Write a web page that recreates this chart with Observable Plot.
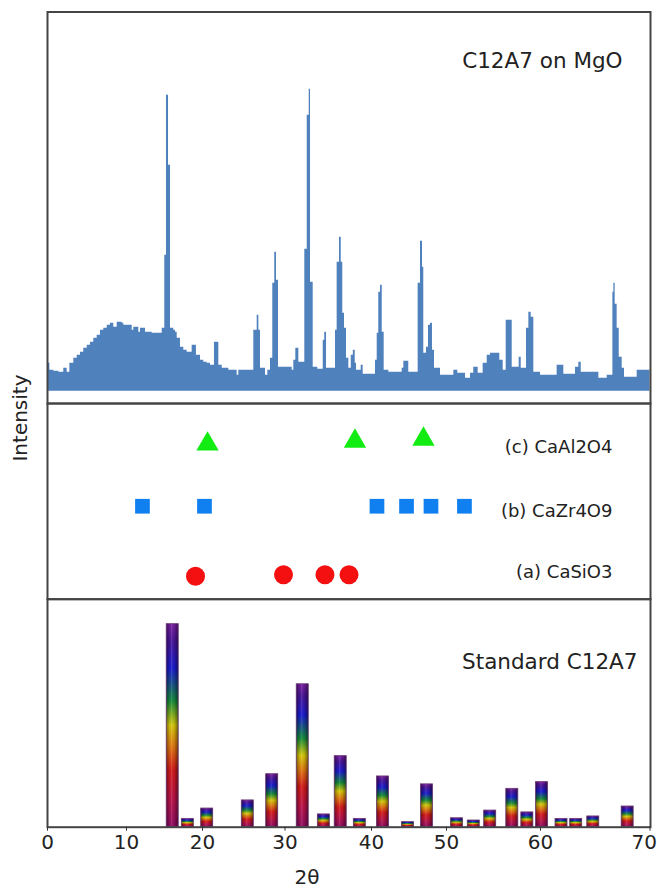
<!DOCTYPE html>
<html><head><meta charset="utf-8">
<script src="https://cdn.jsdelivr.net/npm/d3@7"></script>
<script src="https://cdn.jsdelivr.net/npm/@observablehq/plot@0.6"></script>
<style>
html,body{margin:0;padding:0;background:#fff;overflow:hidden;}
#chart{position:relative;width:657px;height:888px;font-family:"DejaVu Sans",sans-serif;}
#chart svg{position:absolute;left:0;top:0;background:transparent;}
.lbl{position:absolute;font-size:20px;color:#222;white-space:nowrap;font-family:"DejaVu Sans",sans-serif;}
</style></head><body><div id="chart"></div>
<script>
// ---- Data (2θ in degrees, intensity in arbitrary units) ----
// Measured pattern "C12A7 on MgO": [2θ, intensity] steps
const pattern = [
[0,28],[0.3,21],[0.8,20],[1.43,19],[2.06,23],[2.49,19],[2.83,28],[3.33,33],[3.76,36],[4.18,39],
[4.59,43],[5.03,46],[5.44,49],[5.86,53],[6.29,56],[6.71,61],[7.13,63],[7.56,66],[7.97,68],[8.39,64],
[8.82,69],[9.46,68],[9.66,66],[10.75,61],[10.96,64],[11.62,59],[11.84,63],[12.5,59],[13.38,58],[14.7,63],
[15.04,136],[15.26,296],[15.53,226],[15.79,63],[16.22,61],[16.45,59],[16.67,53],[17.1,44],[17.54,41],[17.98,39],
[18.64,46],[19.2,36],[19.74,31],[20.16,29],[20.57,28],[20.97,26],[21.45,49],[21.98,26],[22.39,23],[23.19,21],
[24.2,16],[24.4,21],[26.22,61],[26.63,76],[26.83,61],[27.03,23],[27.64,16],[27.92,21],[28.24,33],[28.52,108],
[28.76,139],[28.97,111],[29.21,24],[30.83,21],[31.02,31],[31.25,43],[31.6,29],[32.29,142],[32.57,276],[32.8,302],
[32.95,109],[33.26,24],[33.79,22],[34.42,51],[34.6,59],[34.8,23],[35.84,61],[36.03,129],[36.3,154],[36.5,129],
[36.68,78],[36.88,63],[37.11,33],[37.38,23],[37.66,36],[37.9,41],[38.12,28],[38.27,21],[38.81,26],[39.04,17],
[40.53,31],[40.76,58],[40.97,99],[41.2,106],[41.43,59],[41.69,21],[42.31,19],[44.09,23],[44.31,30],[44.97,19],
[46.22,108],[46.53,150],[46.8,124],[46.97,38],[47.33,44],[47.6,66],[47.87,68],[48.13,41],[48.4,23],[49.2,16],
[50.78,21],[51.2,18],[52.02,13],[52.55,18],[52.9,24],[53.37,18],[53.9,28],[54.33,36],[54.68,38],[55.67,31],
[56.03,21],[56.35,71],[56.99,24],[57.73,34],[57.95,23],[58.51,63],[58.76,79],[59.01,74],[59.29,19],[60.0,16],
[61.52,26],[62.13,17],[63.2,24],[63.5,29],[63.72,19],[65.33,13],[66.09,16],[66.61,99],[66.7,108],[66.82,87],
[67.0,63],[67.19,34],[67.46,23],[67.67,14],[68.83,21],[70,21]
];

// Reference phases (marker rows)
const caAl2O4Theta = [20.61, 38.09, 46.93];
const caAl2O4Row   = [3.17, 3.23, 3.27];
const caZr4O9Theta = [12.1, 20.24, 40.73, 44.67, 47.93, 51.91];
const caZr4O9Row   = [1.9, 1.9, 1.9, 1.9, 1.9, 1.9];
const caSiO3Theta  = [19.08, 29.82, 34.62, 37.4];
const caSiO3Row    = [0.47, 0.5, 0.5, 0.5];
const phaseLabels  = ["(a) CaSiO3", "(b) CaZr4O9", "(c) CaAl2O4"];
const phaseLabelRow = [0.55, 1.8, 3.1];

// Standard C12A7 reference lines
const stdTheta = [16.08,18.07,20.57,25.49,28.45,32.05,34.49,36.44,38.65,41.53,44.87,47.4,51.12,52.9,54.65,57.0,58.6,60.14,61.92,63.26,64.82,67.96];
const stdRelI  = [100,4.1,9.2,13.2,26.1,70.4,6.3,35,4.1,25,2.5,21.1,4.4,3.3,8.2,18.9,7.3,22.2,4.1,4.1,5.3,10.2];

const xTicks = [0,10,20,30,40,50,60,70];
const topTitle = "C12A7 on MgO";
const bottomTitle = "Standard C12A7";
const xLabel = "2θ";
const yLabel = "Intensity";

// ---- Build ----
const W = 657, H = 888;
const xScale = {type: "linear", domain: xTicks, range: [47,126,202,284.5,371,446,540,649.5]};
const frameStyle = {stroke: "#444", strokeWidth: 2};
const font = {fontFamily: "DejaVu Sans, sans-serif", background: "transparent", overflow: "visible", color: "#222"};

const patternData = pattern.map(([t, i]) => ({t, i}));
const markers = [
  ...caAl2O4Theta.map((t, k) => ({t, row: caAl2O4Row[k], phase: "c"})),
  ...caZr4O9Theta.map((t, k) => ({t, row: caZr4O9Row[k], phase: "b"})),
  ...caSiO3Theta.map((t, k) => ({t, row: caSiO3Row[k], phase: "a"}))
];
const labels = phaseLabels.map((s, k) => ({s, row: phaseLabelRow[k]}));
const bars = stdTheta.map((t, k) => ({t, h: stdRelI[k]}));

const plotTop = Plot.plot({
  width: W, height: H, marginLeft: 47, marginRight: 7, marginTop: 11.5, marginBottom: H - 403,
  style: font,
  x: {...xScale, axis: null},
  y: {domain: [-12.3, 379.2], axis: null},
  marks: [
    Plot.areaY(patternData, {x: "t", y: "i", curve: "step-after", fill: "#4f81bd"}),
    Plot.text([topTitle], {frameAnchor: "top-right", dx: -28, dy: 49, textAnchor: "end", lineAnchor: "middle", fontSize: 21.5, fill: "#222"}),
    Plot.frame(frameStyle)
  ]
});

const plotMid = Plot.plot({
  width: W, height: H, marginLeft: 47, marginRight: 7, marginTop: 403, marginBottom: H - 598.7,
  style: font,
  x: {...xScale, axis: null},
  y: {domain: [0, 4], axis: null},
  marks: [
    Plot.dot(markers.filter(d => d.phase === "c"), {x: "t", y: "row", symbol: "triangle", r: 8.3, fill: "#13ec13"}),
    Plot.dot(markers.filter(d => d.phase === "b"), {x: "t", y: "row", symbol: "square", r: 8.3, fill: "#1080f0"}),
    Plot.dot(markers.filter(d => d.phase === "a"), {x: "t", y: "row", symbol: "circle", r: 9.5, fill: "#f41010"}),
    Plot.text(labels, {y: "row", text: "s", frameAnchor: "right", dx: -38, textAnchor: "end", lineAnchor: "middle", fontSize: 18, fill: "#222"}),
    Plot.frame(frameStyle)
  ]
});

const plotBottom = Plot.plot({
  width: W, height: H, marginLeft: 47, marginRight: 7, marginTop: 598.7, marginBottom: H - 826.7,
  style: font,
  x: {...xScale},
  y: {domain: [0, 112.3], axis: null},
  marks: [
    Plot.rectY(bars, {x1: "t", x2: "t", y: "h", insetLeft: -6, insetRight: -6, fill: "url(#rainbowGrad)"}),
    Plot.rectY(bars, {x1: "t", x2: "t", y: "h", insetLeft: -6, insetRight: -6, fill: "url(#shadeGrad)", stroke: "#6b3a78", strokeWidth: 0.8}),
    Plot.text([bottomTitle], {frameAnchor: "top-right", dx: -13, dy: 63, textAnchor: "end", lineAnchor: "middle", fontSize: 21.5, fill: "#222"}),
    Plot.frame(frameStyle),
    Plot.axisX({ticks: xTicks, tickSize: 4, tickPadding: 4, fontSize: 20, label: null, stroke: "#333", fill: "#222",
      tickFormat: d => (d === xTicks[xTicks.length - 1] ? "" : String(d))}),
    Plot.axisX([xTicks[xTicks.length - 1]], {tickSize: 0, tickPadding: 8, fontSize: 20, label: null, fill: "#222", textAnchor: "end", dx: 7})
  ]
});

// gradients for bars
const defs = d3.select(plotBottom).insert("defs", ":first-child");
const rg = defs.append("linearGradient").attr("id", "rainbowGrad").attr("x1", 0).attr("y1", 0).attr("x2", 0).attr("y2", 1);
[[0,"#7a1fa0"],[0.08,"#4b1496"],[0.22,"#1a1ad0"],[0.38,"#138a3a"],[0.5,"#d6c80a"],[0.6,"#e07a10"],[0.72,"#d41a1a"],[0.87,"#b8124a"],[1,"#8e0c62"]]
  .forEach(([o, c]) => rg.append("stop").attr("offset", o).attr("stop-color", c));
const sg = defs.append("linearGradient").attr("id", "shadeGrad").attr("x1", 0).attr("y1", 0).attr("x2", 1).attr("y2", 0);
[[0,"#000",0.45],[0.3,"#000",0.05],[0.45,"#fff",0.12],[0.65,"#000",0.05],[1,"#000",0.5]]
  .forEach(([o, c, a]) => sg.append("stop").attr("offset", o).attr("stop-color", c).attr("stop-opacity", a));

const chart = document.getElementById("chart");
chart.append(plotTop, plotMid, plotBottom);

const yl = document.createElement("div");
yl.className = "lbl"; yl.textContent = yLabel;
yl.style.left = "20px"; yl.style.top = "418px"; yl.style.transform = "translate(-50%,-50%) rotate(-90deg)";
chart.append(yl);
const xl = document.createElement("div");
xl.className = "lbl"; xl.textContent = xLabel;
xl.style.left = "307px"; xl.style.top = "877px"; xl.style.transform = "translate(-50%,-50%)";
chart.append(xl);
</script>
</body></html>
